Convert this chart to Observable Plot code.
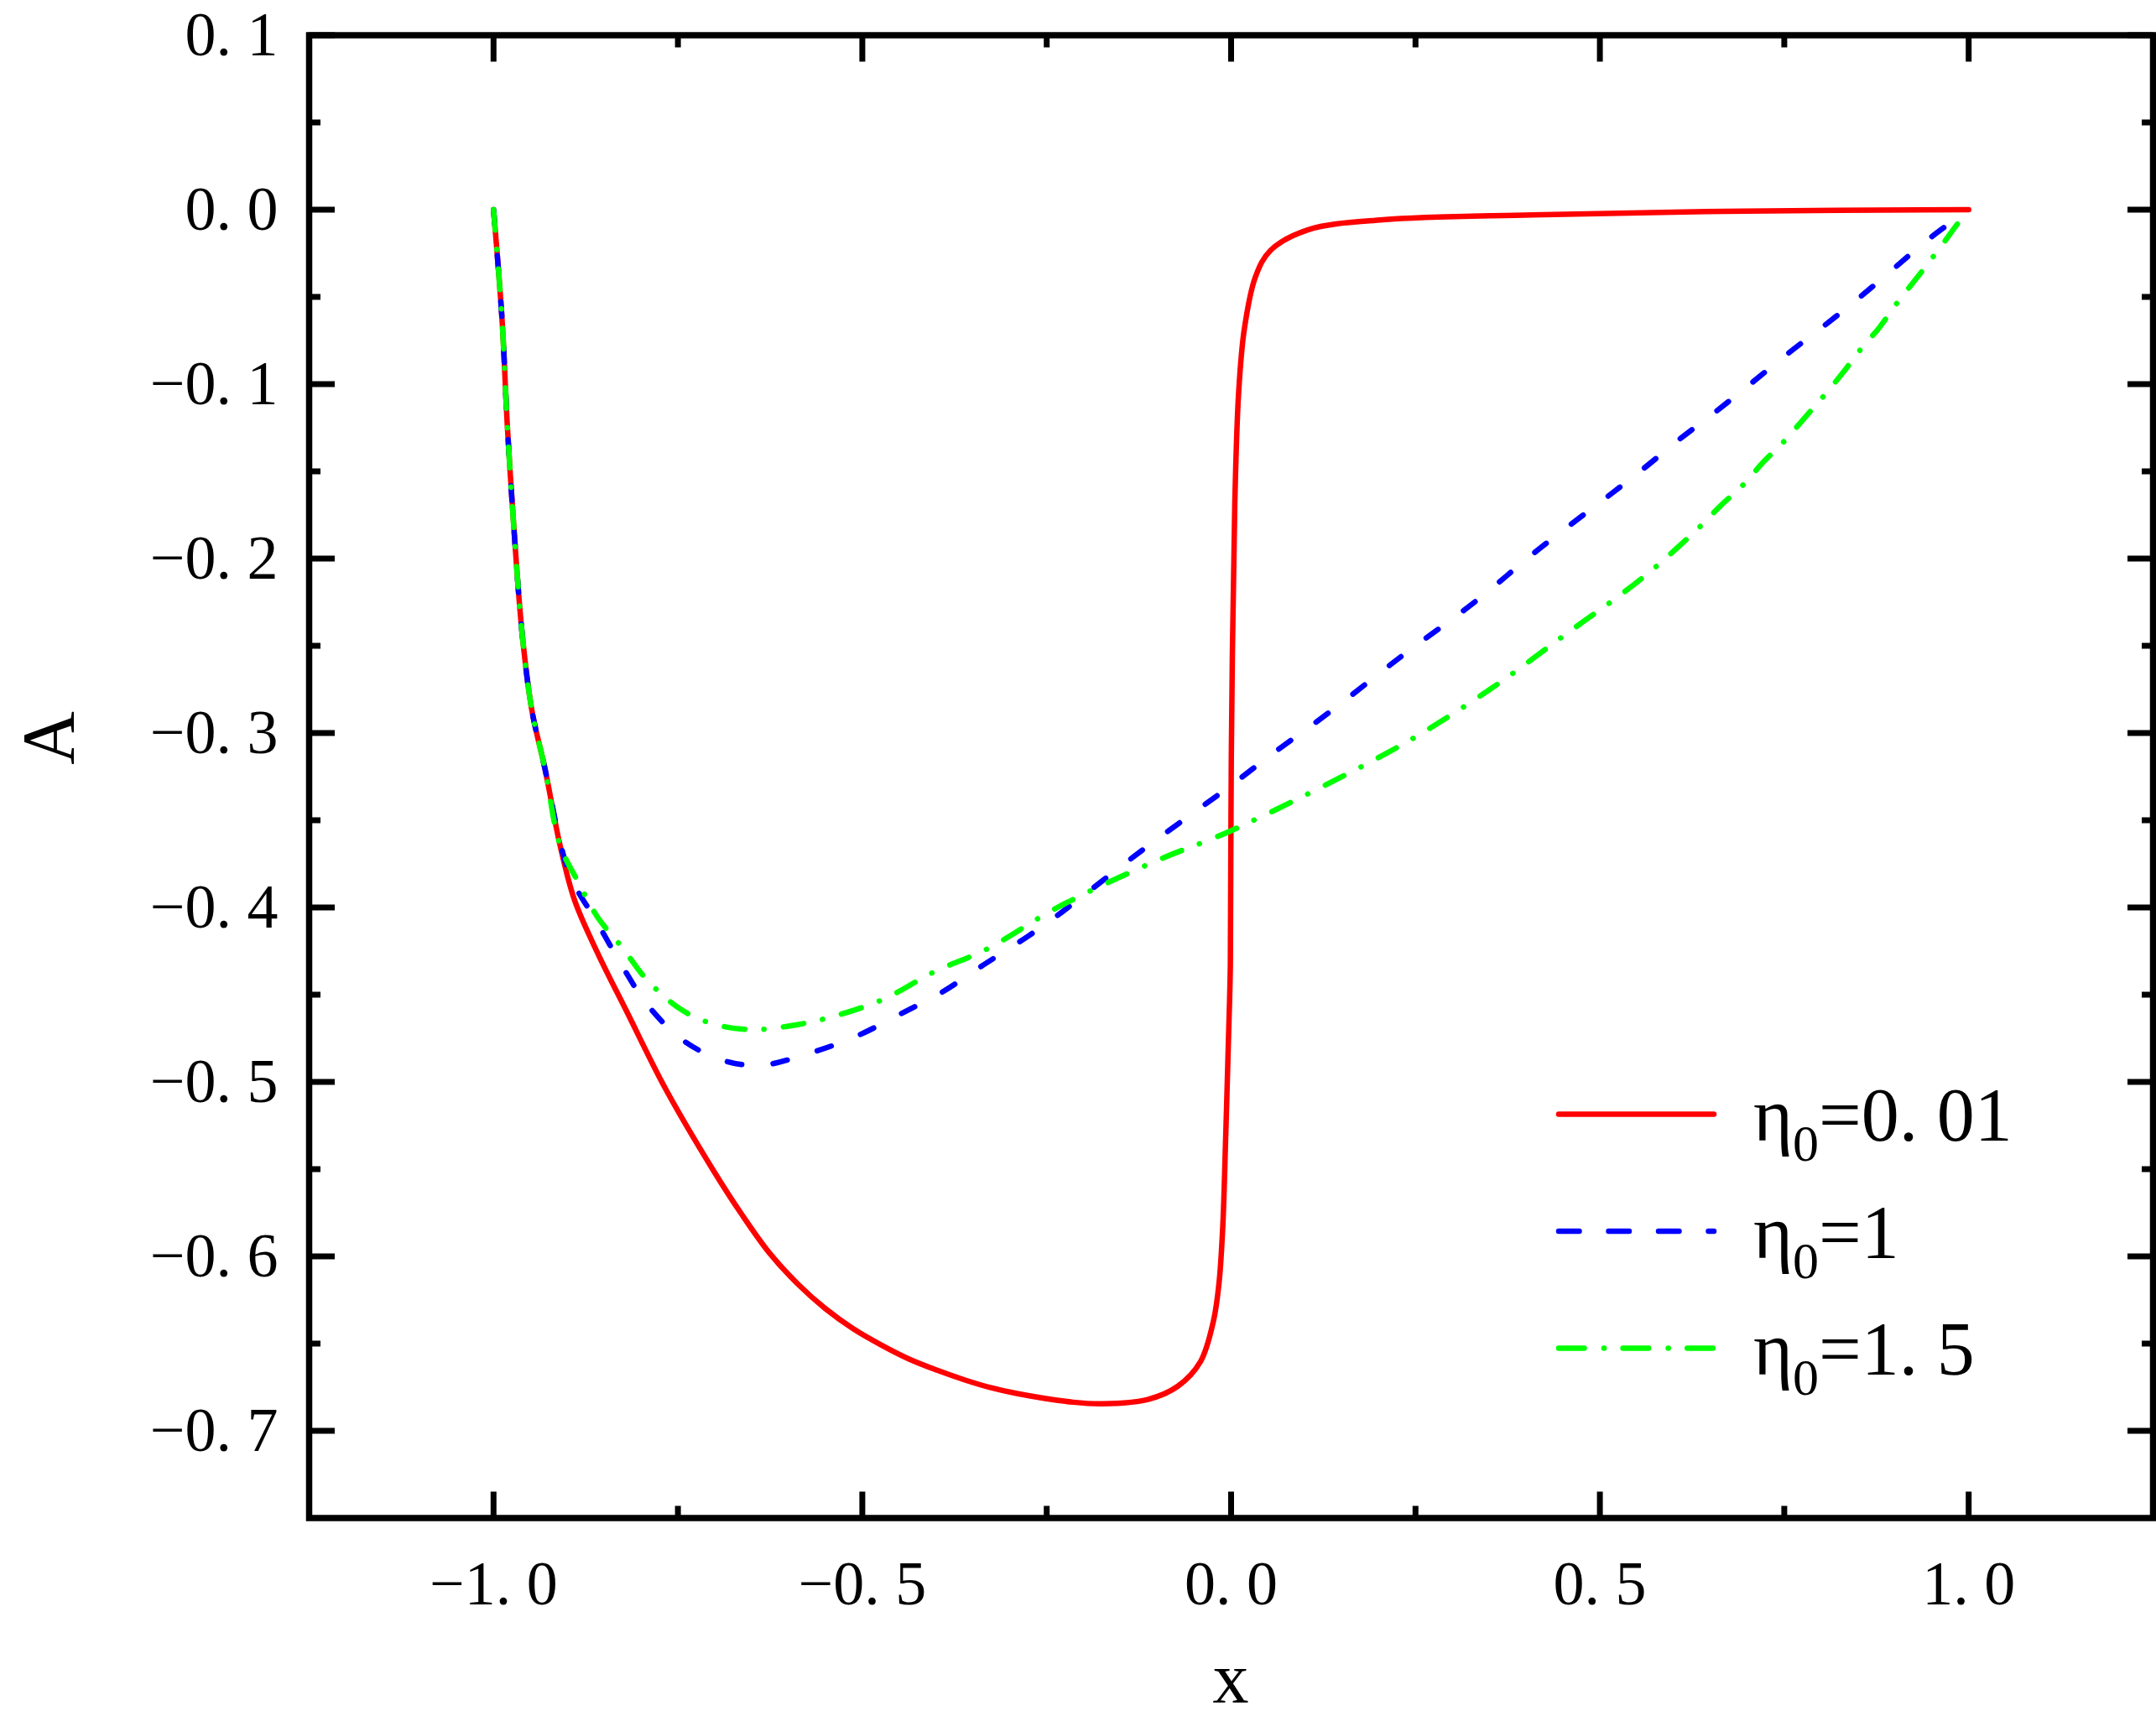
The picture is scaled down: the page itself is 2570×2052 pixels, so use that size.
<!DOCTYPE html>
<html>
<head>
<meta charset="utf-8">
<script src="https://cdn.jsdelivr.net/npm/d3@7"></script>
<script src="https://cdn.jsdelivr.net/npm/@observablehq/plot@0.6"></script>
<style>
html, body { margin: 0; padding: 0; background: #fff; overflow: hidden; }
#wrap { position: relative; width: 2570px; height: 2052px; }
#overlay { position: absolute; left: 0; top: 0; pointer-events: none; }
</style>
</head>
<body>
<div id="wrap"></div>
<script>
// ---- data ----
const red = [
  [-1.0, 0.0], [-0.9886, -0.062], [-0.981, -0.126], [-0.971, -0.191], [-0.961, -0.244],
  [-0.948, -0.287], [-0.930, -0.321], [-0.910, -0.364], [-0.890, -0.396], [-0.859, -0.426],
  [-0.819, -0.460], [-0.768, -0.503], [-0.702, -0.5507], [-0.664, -0.5756], [-0.626, -0.598],
  [-0.588, -0.6156], [-0.550, -0.630], [-0.512, -0.6416], [-0.474, -0.6509], [-0.4365, -0.6589],
  [-0.3985, -0.6653], [-0.3606, -0.6709], [-0.3265, -0.6752], [-0.2906, -0.6786],
  [-0.2143, -0.6836], [-0.1737, -0.6845], [-0.1128, -0.682], [-0.0721, -0.6744], [-0.0416, -0.6604],
  [-0.0239, -0.637], [-0.0163, -0.615], [-0.0113, -0.583], [-0.0072, -0.5296], [-0.0036, -0.476],
  [-0.001, -0.433], [0.0003, -0.313], [0.005, -0.169], [0.0102, -0.105], [0.0179, -0.0685],
  [0.033, -0.0385], [0.0535, -0.0233], [0.104, -0.0116], [0.206, -0.0058], [0.408, -0.003],
  [0.697, -0.0008], [1.0, 0.0]
];
const blue = [
  [-1.0, 0.0], [-0.9886, -0.062], [-0.981, -0.126], [-0.971, -0.191], [-0.961, -0.244],
  [-0.948, -0.287], [-0.930, -0.321], [-0.910, -0.362], [-0.895, -0.383], [-0.859, -0.409],
  [-0.824, -0.4347], [-0.791, -0.456], [-0.742, -0.4765], [-0.686, -0.488], [-0.636, -0.4904],
  [-0.575, -0.484], [-0.509, -0.474], [-0.448, -0.461], [-0.392, -0.4486], [-0.336, -0.433],
  [-0.275, -0.4164], [-0.2355, -0.4046], [-0.12, -0.367], [0.0, -0.330], [0.0535, -0.3127],
  [0.132, -0.2885], [0.231, -0.256], [0.330, -0.225], [0.419, -0.194], [0.518, -0.162],
  [0.559, -0.1485], [0.608, -0.1316], [0.6576, -0.1156], [0.705, -0.0996], [0.754, -0.0828],
  [0.8035, -0.0667], [0.853, -0.050], [0.898, -0.0339], [0.9477, -0.01625], [1.0, 0.0]
];
const green = [
  [-1.0, 0.0], [-0.9886, -0.062], [-0.981, -0.126], [-0.971, -0.191], [-0.961, -0.244],
  [-0.948, -0.287], [-0.930, -0.321], [-0.910, -0.364], [-0.8845, -0.386], [-0.859, -0.4055],
  [-0.824, -0.4238], [-0.793, -0.441], [-0.7475, -0.458], [-0.702, -0.4668], [-0.651, -0.470],
  [-0.600, -0.468], [-0.544, -0.463], [-0.473, -0.4529], [-0.402, -0.4368], [-0.331, -0.4238],
  [-0.2355, -0.400], [-0.1, -0.373], [0.0, -0.356], [0.206, -0.3127], [0.282, -0.294],
  [0.368, -0.270], [0.450, -0.2445], [0.531, -0.2198], [0.574, -0.2054], [0.6045, -0.194],
  [0.635, -0.182], [0.663, -0.170], [0.6936, -0.158], [0.722, -0.1445], [0.7505, -0.1325],
  [0.777, -0.1196], [0.8035, -0.1068], [0.830, -0.0932], [0.853, -0.0804], [0.879, -0.0675],
  [0.902, -0.054], [0.9363, -0.0355], [0.9666, -0.0187], [0.9875, -0.0066], [1.0, 0.0]
];
const seriesValues = ["0. 01", "1", "1. 5"];
const seriesColors = ["#ff0000", "#0000ff", "#00ff00"];
const xMajor = [-1.0, -0.5, 0.0, 0.5, 1.0];
const xMinor = [-0.75, -0.25, 0.25, 0.75];
const yMajor = [-0.7, -0.6, -0.5, -0.4, -0.3, -0.2, -0.1, 0.0, 0.1];
const yMinor = [-0.65, -0.55, -0.45, -0.35, -0.25, -0.15, -0.05, 0.05];
const xLabel = "x";
const yLabel = "A";

// ---- styles ----
const FONT = "'Liberation Serif', 'Times New Roman', serif";
const curveDash = [null, "17.5,37.5", "24.5,23,0.1,23.4"];
const legendDash = [null, "24.5,35", "30.5,23.5,0.1,22.5"];
const fmt = d => (d < -1e-9 ? "\u2212" : "") + Math.abs(d).toFixed(1).replace(".", ". ");
const blank = () => "";
const TS = 31, TSm = 14, AX = 7;

const series = [red, blue, green];

const plot = Plot.plot({
  width: 2570,
  height: 2052,
  marginLeft: 368,
  marginRight: 4,
  marginTop: 41.5,
  marginBottom: 242.5,
  style: { fontFamily: FONT, background: "white", color: "black" },
  x: { domain: [-1.25, 1.25] },
  y: { domain: [-0.75, 0.1] },
  marks: [
    Plot.axisX(xMajor, { anchor: "bottom", tickSize: -TS, tickPadding: TS + 50, tickFormat: fmt, fontSize: 74, strokeWidth: AX, label: null }),
    Plot.axisX(xMinor, { anchor: "bottom", tickSize: -TSm, tickFormat: blank, strokeWidth: AX, label: null }),
    Plot.axisX(xMajor, { anchor: "top", tickSize: -TS, tickFormat: blank, strokeWidth: AX, label: null }),
    Plot.axisX(xMinor, { anchor: "top", tickSize: -TSm, tickFormat: blank, strokeWidth: AX, label: null }),
    Plot.axisY(yMajor, { anchor: "left", tickSize: -TS, tickPadding: TS + 37, tickFormat: fmt, fontSize: 74, strokeWidth: AX, label: null }),
    Plot.axisY(yMinor, { anchor: "left", tickSize: -TSm, tickFormat: blank, strokeWidth: AX, label: null }),
    Plot.axisY(yMajor, { anchor: "right", tickSize: -TS, tickFormat: blank, strokeWidth: AX, label: null }),
    Plot.axisY(yMinor, { anchor: "right", tickSize: -TSm, tickFormat: blank, strokeWidth: AX, label: null }),
    ...series.map((s, i) => Plot.line(s, {
      stroke: seriesColors[i],
      strokeWidth: 6.5,
      strokeLinecap: "round",
      strokeLinejoin: "round",
      strokeDasharray: curveDash[i],
      curve: "catmull-rom"
    })),
    Plot.frame({ stroke: "black", strokeWidth: 7.5 })
  ]
});

const wrap = document.getElementById("wrap");
wrap.appendChild(plot);

// ---- overlay: axis titles and legend ----
const ov = d3.select(wrap).append("svg")
  .attr("id", "overlay")
  .attr("width", 2570).attr("height", 2052)
  .style("font-family", FONT);

ov.append("text")
  .attr("transform", "translate(87,880) rotate(-90)")
  .attr("text-anchor", "middle")
  .attr("font-size", 88)
  .text(yLabel);

ov.append("text")
  .attr("x", 1467).attr("y", 2030)
  .attr("text-anchor", "middle")
  .attr("font-size", 86)
  .text(xLabel);

const legendY = [1328.5, 1468, 1607.4];
seriesValues.forEach((v, i) => {
  const y = legendY[i];
  ov.append("line")
    .attr("x1", 1858).attr("x2", 2043).attr("y1", y).attr("y2", y)
    .attr("stroke", seriesColors[i]).attr("stroke-width", 6.5)
    .attr("stroke-linecap", "round")
    .attr("stroke-dasharray", legendDash[i]);
  const t = ov.append("text").attr("x", 2090).attr("y", y + 31.5).attr("font-size", 90);
  t.append("tspan").text("\u03b7");
  t.append("tspan").attr("font-size", 62).attr("dy", 24).text("0");
  t.append("tspan").attr("dy", -24).text("=" + v);
});
</script>
</body>
</html>
